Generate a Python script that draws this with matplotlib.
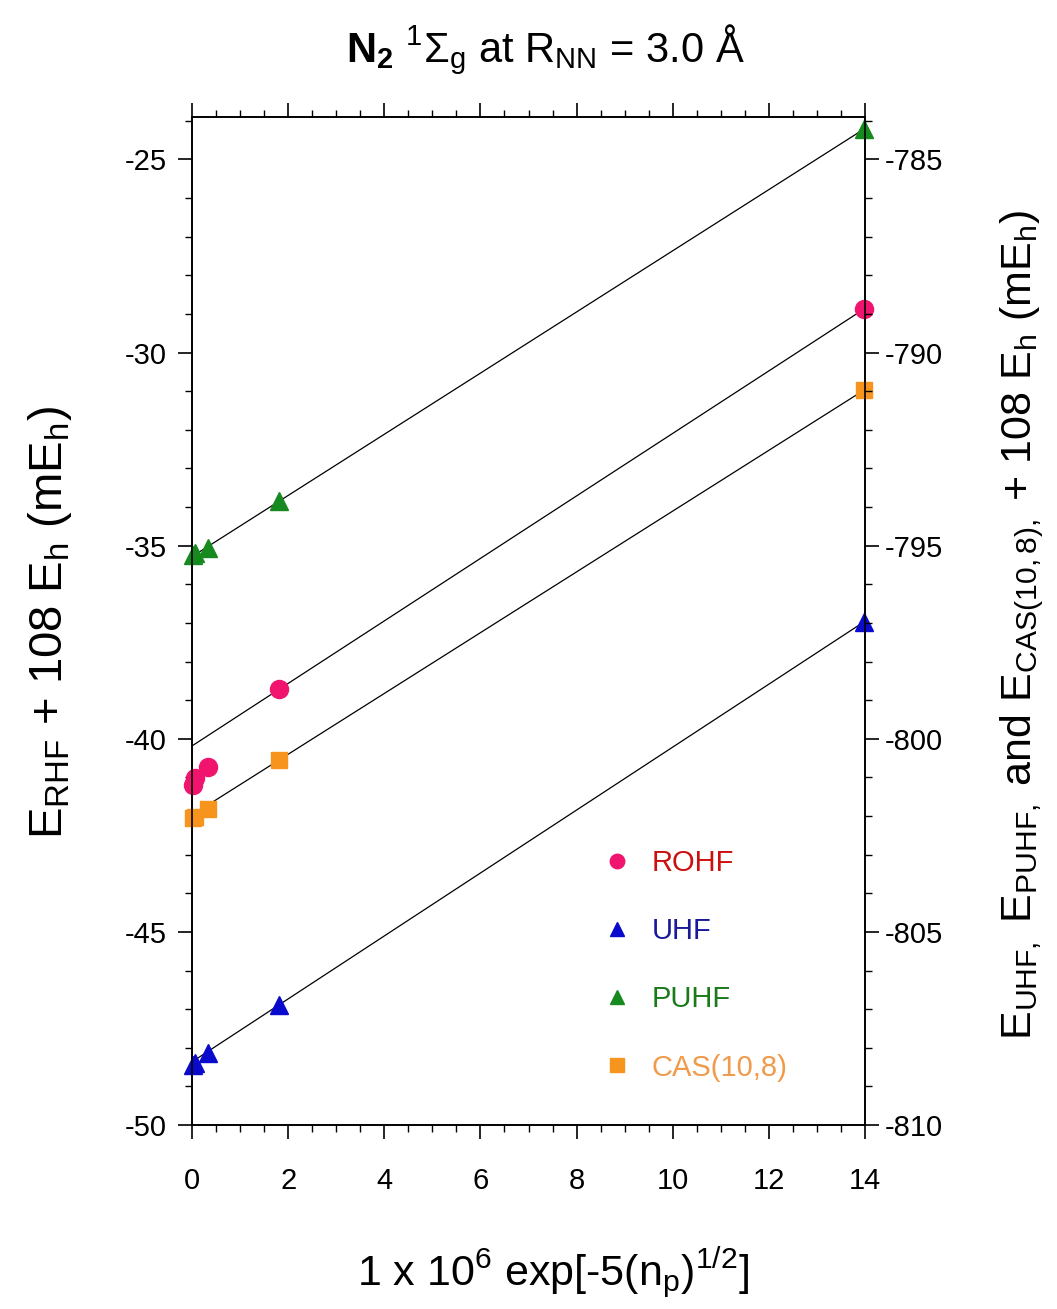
import numpy as np
import matplotlib
matplotlib.use("Agg")
import matplotlib.pyplot as plt
from matplotlib.ticker import MultipleLocator
from matplotlib.lines import Line2D

plt.rcParams['font.family'] = ['Liberation Sans', 'DejaVu Sans']
plt.rcParams['mathtext.fontset'] = 'custom'
plt.rcParams['mathtext.rm'] = 'Liberation Sans'
plt.rcParams['mathtext.it'] = 'Liberation Sans'
plt.rcParams['mathtext.bf'] = 'Liberation Sans:bold'
plt.rcParams['mathtext.default'] = 'rm'

# x = 1e6 * exp(-5 sqrt(n_p)) for n_p = 5, 7, 9, 11, 13
x_vals = [13.97, 1.81, 0.335, 0.063, 0.015]

# left axis (mEh)
rohf = [-28.88, -38.72, -40.74, -41.02, -41.20]
# right axis (mEh)
uhf = [-796.98, -806.89, -808.14, -808.40, -808.45]
puhf = [-784.22, -793.85, -795.07, -795.20, -795.25]
cas = [-790.98, -800.55, -801.83, -802.02, -802.05]

offset = 760.0  # right axis = left axis - 760

series = [
    ("ROHF", rohf, 0.0, 'o', '#F0146E', '#CC1010', 13),
    ("UHF", uhf, offset, '^', '#0A0ACC', '#1A1A99', 13),
    ("PUHF", puhf, offset, '^', '#168A1E', '#1A7A1A', 13),
    ("CAS(10,8)", cas, offset, 's', '#F7941D', '#F09A4A', 12),
]

fig = plt.figure(figsize=(10.57, 13.09), dpi=100)
ax = fig.add_axes([192/1057, 1-1125/1309, (865-192)/1057, (1125-117)/1309])
ax2 = ax.twinx()

ylo, yhi = -50.0, -23.9
ax.set_xlim(0, 14)
ax.set_ylim(ylo, yhi)
ax2.set_ylim(ylo - offset, yhi - offset)

xa = np.array(x_vals)
xline = np.array([0.0, 14.0])
handles = []
for name, vals, off, mk, col, tcol, ms in series:
    v = np.array(vals) + off  # convert to left-axis scale
    p = np.polyfit(xa[:2], v[:2], 1)
    ax.plot(xline, np.polyval(p, xline), color='black', lw=0.9, zorder=2)
    ax.plot(xa, v, linestyle='none', marker=mk, color=col, ms=ms,
            mec=col, clip_on=False, zorder=3)
    handles.append(Line2D([], [], linestyle='none', marker=mk, color=col,
                          ms=ms * 0.8, mec=col))

leg = ax.legend(handles, [s[0] for s in series], loc='upper left',
                bbox_to_anchor=(0.575, 0.30), frameon=False, fontsize=21,
                handlelength=0.8, handletextpad=0.8, labelspacing=1.38)
for t, s in zip(leg.get_texts(), series):
    t.set_color(s[5])

ax.xaxis.set_major_locator(MultipleLocator(2))
ax.xaxis.set_minor_locator(MultipleLocator(0.5))
ax.yaxis.set_major_locator(MultipleLocator(5))
ax.yaxis.set_minor_locator(MultipleLocator(1))
ax2.yaxis.set_major_locator(MultipleLocator(5))
ax2.yaxis.set_minor_locator(MultipleLocator(1))

ax.tick_params(axis='both', which='major', direction='out', length=10,
               width=1.2, labelsize=21, top=True, pad=8)
ax.tick_params(axis='both', which='minor', direction='out', length=5,
               width=1.0, top=True)
ax.tick_params(axis='x', pad=20)
ax2.tick_params(axis='y', which='major', direction='out', length=10,
                width=1.2, labelsize=21, pad=4)
ax2.tick_params(axis='y', which='minor', direction='out', length=5, width=1.0)

for a in (ax, ax2):
    for sp in a.spines.values():
        sp.set_linewidth(1.2)

ax.set_yticks([-50, -45, -40, -35, -30, -25])
ax.set_yticklabels(['-50', '-45', '-40', '-35', '-30', '-25'])
ax2.set_yticks([-810, -805, -800, -795, -790, -785])
ax2.set_yticklabels(['-810', '-805', '-800', '-795', '-790', '-785'])
ax.set_xticks([0, 2, 4, 6, 8, 10, 12, 14])

fig.text(545/1057, 1-50/1309,
         r"$\mathbf{N_2}$ $^1\Sigma_g$ at R$_{NN}$ = 3.0 Å",
         ha='center', va='center', fontsize=30)
fig.text(553/1057, 1-1272/1309, r"1 x 10$^6$ exp[-5(n$_p$)$^{1/2}$]",
         ha='center', va='center', fontsize=31)
fig.text(50/1057, 1-622/1309, r"E$_{RHF}$ + 108 E$_h$ (mE$_h$)",
         ha='center', va='center', rotation=90, fontsize=34)
fig.text(1022/1057, 1-625/1309,
         r"E$_{UHF,}$ E$_{PUHF,}$ and E$_{CAS(10,8),}$ + 108 E$_h$ (mE$_h$)",
         ha='center', va='center', rotation=90, fontsize=31)

fig.savefig("out.png", dpi=100, facecolor='white')
